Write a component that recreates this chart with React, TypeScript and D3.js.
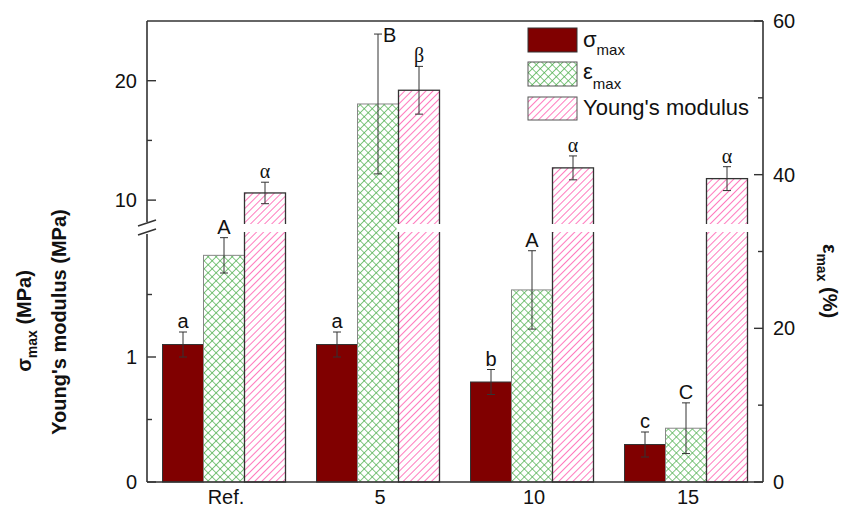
import React from "react";
import * as d3 from "d3";

const categories = ["Ref.", "5", "10", "15"];
const seriesNames = ["sigma", "eps", "young"];
const sigmaMax = [1.1, 1.1, 0.8, 0.3];
const sigmaErr = [0.1, 0.1, 0.1, 0.1];
const epsMax = [29.5, 49.2, 25.0, 7.0];
const epsErr = [2.3, 9.1, 5.1, 3.3];
const youngMod = [10.6, 19.2, 12.7, 11.8];
const youngErr = [0.9, 2.0, 1.0, 1.0];
const sigmaLabels = ["a", "a", "b", "c"];
const epsLabels = ["A", "B", "A", "C"];
const youngLabels = ["α", "β", "α", "α"];
const leftLowTicks = [0, 1];
const leftLowMinor = [0.5, 1.5];
const leftHighTicks = [10, 20];
const leftHighMinor = [15];
const rightTicks = [0, 20, 40, 60];
const rightMinor = [10, 30, 50];

const W = 848, H = 510;
const L = 147, R = 763, T = 21, B = 482;
const BREAK_LO = 232, BREAK_HI = 224;
const AX = "#333";
const SANS = "'Liberation Sans', Arial, sans-serif";
const SERIF = "'Liberation Serif', 'Times New Roman', serif";

const x0 = d3.scaleBand<string>().domain(categories).range([L, R]).padding(0);
const x1 = d3.scaleBand<string>().domain(seriesNames).range([0, 123]).padding(0);
const groupOffset = (x0.bandwidth() - 123) / 2;
const yLow = d3.scaleLinear().domain([0, 2]).range([B, BREAK_LO]);
const yHigh = d3.scaleLinear().domain([8, 25]).range([BREAK_HI, T]);
const yLeft = (v: number) => (v <= 2 ? yLow(v) : yHigh(v));
const yRight = d3.scaleLinear().domain([0, 60]).range([B, T]);

function Label({ x, capY, text, serif }: { x: number; capY: number; text: string; serif?: boolean }) {
  const fontSize = 20;
  if (capY - 20 < T) {
    return (
      <text x={x + 5} y={capY + 8} fontFamily={serif ? SERIF : SANS} fontSize={fontSize} fill="#111">
        {text}
      </text>
    );
  }
  return (
    <text x={x} y={capY - 4} textAnchor="middle" fontFamily={serif ? SERIF : SANS} fontSize={fontSize} fill="#111">
      {text}
    </text>
  );
}

function ErrBar({ x, yTop, yBot }: { x: number; yTop: number; yBot: number }) {
  return (
    <g stroke="#333" strokeWidth={1}>
      <line x1={x} x2={x} y1={yTop} y2={yBot} />
      <line x1={x - 4} x2={x + 4} y1={yTop} y2={yTop} />
      <line x1={x - 4} x2={x + 4} y1={yBot} y2={yBot} />
    </g>
  );
}

export default function App() {
  const bw = x1.bandwidth();
  return (
    <svg width={W} height={H} style={{ position: "absolute", left: 0, top: 0, background: "#fff" }}>
      <defs>
        <pattern id="cross" width={5.66} height={5.66} patternUnits="userSpaceOnUse" patternTransform="rotate(45)">
          <rect width={5.66} height={5.66} fill="#fff" />
          <line x1={0} y1={0} x2={0} y2={5.66} stroke="#4cae4c" strokeWidth={1.4} />
          <line x1={0} y1={0} x2={5.66} y2={0} stroke="#4cae4c" strokeWidth={1.4} />
        </pattern>
        <pattern id="diag" width={5} height={10} patternUnits="userSpaceOnUse" patternTransform="rotate(45)">
          <rect width={5} height={10} fill="#fff" />
          <line x1={0} y1={0} x2={0} y2={10} stroke="#ff4fa8" strokeWidth={1.5} />
        </pattern>
      </defs>

      {/* bars */}
      {categories.map((c, i) => {
        const gx = (x0(c) as number) + groupOffset;
        const xs = gx + (x1("sigma") as number);
        const xe = gx + (x1("eps") as number);
        const xy = gx + (x1("young") as number);
        const ys = yLeft(sigmaMax[i]);
        const ye = yRight(epsMax[i]);
        const yy = yLeft(youngMod[i]);
        return (
          <g key={c}>
            <rect x={xs} y={ys} width={bw} height={B - ys} fill="#800000" stroke="#333" strokeWidth={1} />
            <rect x={xe} y={ye} width={bw} height={B - ye} fill="url(#cross)" stroke="#888" strokeWidth={1} />
            <rect x={xy} y={yy} width={bw} height={B - yy} fill="url(#diag)" stroke="#333" strokeWidth={1.3} />
            <rect x={xy - 2} y={BREAK_HI} width={bw + 4} height={BREAK_LO - BREAK_HI} fill="#fff" />
            <ErrBar x={xs + bw / 2} yTop={yLeft(sigmaMax[i] + sigmaErr[i])} yBot={yLeft(sigmaMax[i] - sigmaErr[i])} />
            <ErrBar x={xe + bw / 2} yTop={yRight(epsMax[i] + epsErr[i])} yBot={yRight(epsMax[i] - epsErr[i])} />
            <ErrBar x={xy + bw / 2} yTop={yLeft(youngMod[i] + youngErr[i])} yBot={yLeft(youngMod[i] - youngErr[i])} />
            <Label x={xs + bw / 2} capY={yLeft(sigmaMax[i] + sigmaErr[i])} text={sigmaLabels[i]} />
            <Label x={xe + bw / 2} capY={yRight(epsMax[i] + epsErr[i])} text={epsLabels[i]} />
            <Label x={xy + bw / 2} capY={yLeft(youngMod[i] + youngErr[i])} text={youngLabels[i]} serif />
          </g>
        );
      })}

      {/* frame */}
      <g stroke={AX} strokeWidth={1.6} fill="none">
        <line x1={L} x2={R} y1={T} y2={T} />
        <line x1={L} x2={R} y1={B} y2={B} />
        <line x1={R} x2={R} y1={T} y2={B} />
        <line x1={L} x2={L} y1={T} y2={BREAK_HI - 2} />
        <line x1={L} x2={L} y1={BREAK_LO + 2} y2={B} />
        <line x1={L - 9} x2={L + 9} y1={BREAK_HI + 2} y2={BREAK_HI - 4} />
        <line x1={L - 9} x2={L + 9} y1={BREAK_LO + 3} y2={BREAK_LO - 3} />
      </g>

      {/* ticks */}
      <g stroke={AX} strokeWidth={1.4}>
        {leftLowTicks.map((t) => <line key={"ll" + t} x1={L} x2={L + 9} y1={yLow(t)} y2={yLow(t)} />)}
        {leftLowMinor.map((t) => <line key={"lm" + t} x1={L} x2={L + 5} y1={yLow(t)} y2={yLow(t)} />)}
        {leftHighTicks.map((t) => <line key={"lh" + t} x1={L} x2={L + 9} y1={yHigh(t)} y2={yHigh(t)} />)}
        {leftHighMinor.map((t) => <line key={"lhm" + t} x1={L} x2={L + 5} y1={yHigh(t)} y2={yHigh(t)} />)}
        {rightTicks.map((t) => <line key={"r" + t} x1={R} x2={R - 9} y1={yRight(t)} y2={yRight(t)} />)}
        {rightMinor.map((t) => <line key={"rm" + t} x1={R} x2={R - 5} y1={yRight(t)} y2={yRight(t)} />)}
      </g>
      <g fontFamily={SANS} fontSize={20} fill="#111">
        {leftLowTicks.map((t) => (
          <text key={"tl" + t} x={137} y={yLow(t)} dy="0.35em" textAnchor="end">{t}</text>
        ))}
        {leftHighTicks.map((t) => (
          <text key={"th" + t} x={137} y={yHigh(t)} dy="0.35em" textAnchor="end">{t}</text>
        ))}
        {rightTicks.map((t) => (
          <text key={"tr" + t} x={773} y={yRight(t)} dy="0.35em" textAnchor="start">{t}</text>
        ))}
        {categories.map((c) => (
          <text key={"x" + c} x={(x0(c) as number) + x0.bandwidth() / 2 + 2} y={504} textAnchor="middle">{c}</text>
        ))}
      </g>

      {/* axis titles */}
      <g fontFamily={SANS} fontWeight="bold" fontSize={20} fill="#111">
        <text transform="translate(31,321) rotate(-90)" textAnchor="middle">
          <tspan>σ</tspan>
          <tspan fontSize={14} dy={6}>max</tspan>
          <tspan dy={-6}> (MPa)</tspan>
        </text>
        <text transform="translate(66,322) rotate(-90)" textAnchor="middle">Young's modulus (MPa)</text>
        <text transform="translate(823,281) rotate(90)" textAnchor="middle">
          <tspan>ε</tspan>
          <tspan fontSize={14} dy={6}>max</tspan>
          <tspan dy={-6}> (%)</tspan>
        </text>
      </g>

      {/* legend */}
      <g>
        <rect x={528} y={28} width={49} height={24} fill="#800000" stroke="#333" strokeWidth={1} />
        <rect x={528} y={62} width={49} height={24} fill="url(#cross)" stroke="#555" strokeWidth={1} />
        <rect x={528} y={97} width={49} height={23} fill="url(#diag)" stroke="#555" strokeWidth={1} />
        <g fontFamily={SANS} fill="#111">
          <text x={583} y={47} fontSize={22}>
            σ<tspan fontSize={15} dy={8}>max</tspan>
          </text>
          <text x={583} y={79} fontSize={22}>
            ε<tspan fontSize={15} dy={10}>max</tspan>
          </text>
          <text x={583} y={115} fontSize={22}>Young's modulus</text>
        </g>
      </g>
    </svg>
  );
}
